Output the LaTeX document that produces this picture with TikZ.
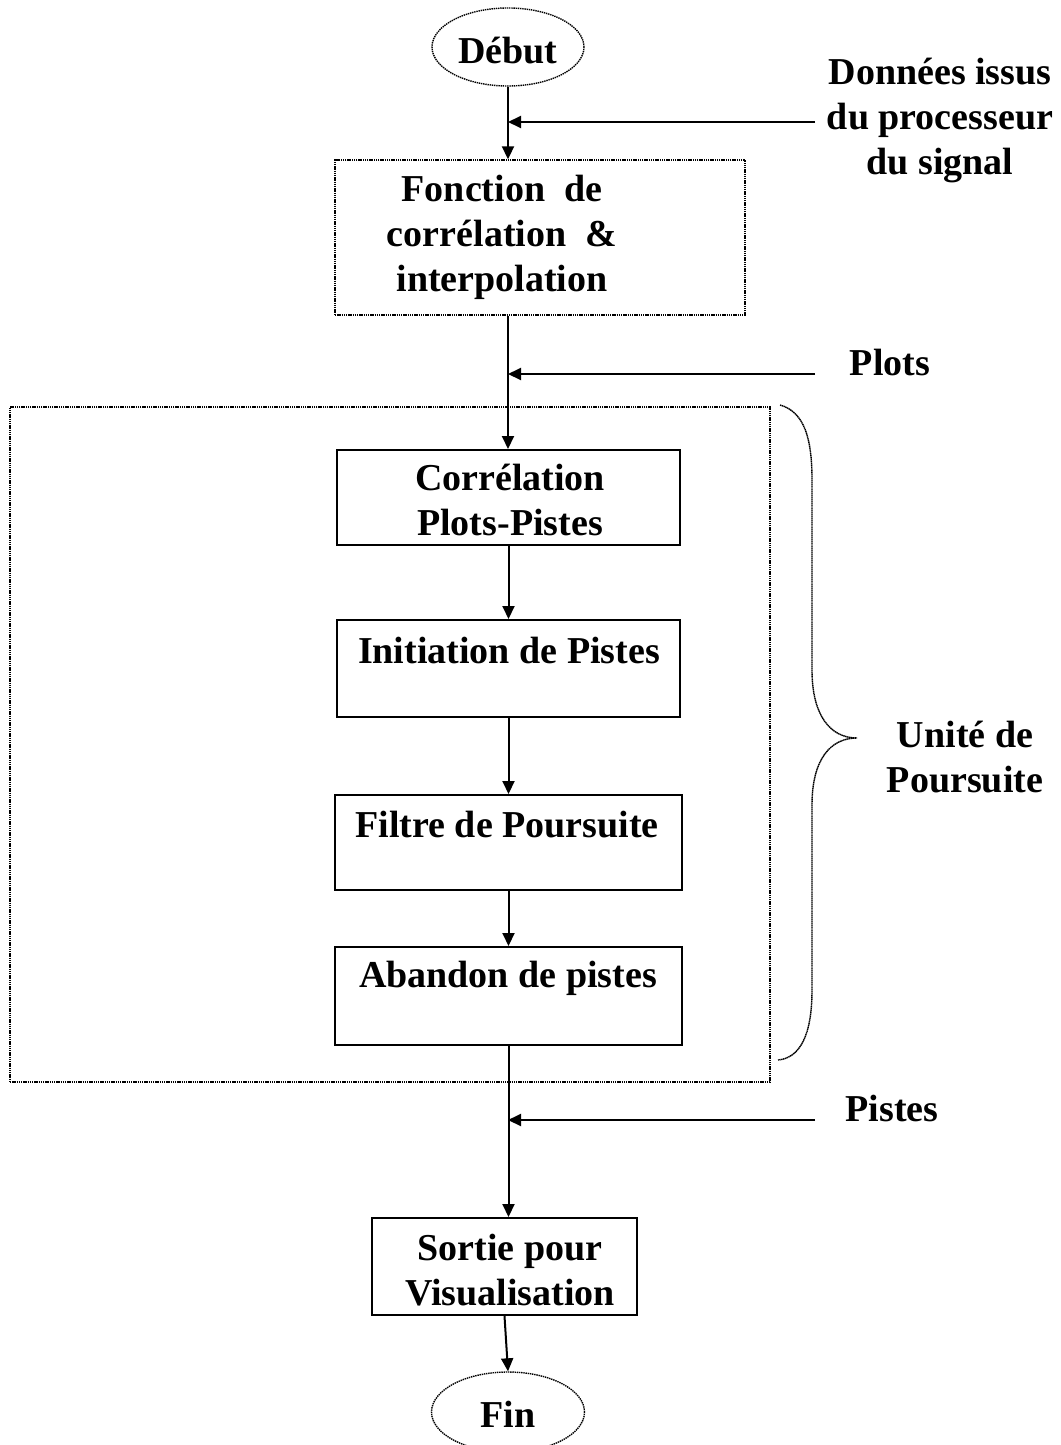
\documentclass[tikz,border=0pt]{standalone}
\usepackage{fontspec}
\setmainfont{Liberation Serif}
\usetikzlibrary{arrows.meta,shapes.geometric}
\begin{document}
\begin{tikzpicture}[x=1pt,y=-1pt,
  lbl/.style={font=\fontsize{38}{45}\selectfont\bfseries, align=center, inner sep=0pt},
  box/.style={draw, line width=2pt, inner sep=0pt},
  dotbox/.style={draw, line width=1.4pt, dash pattern=on 1.4pt off 0.8pt, inner sep=0pt},
  term/.style={ellipse, draw, line width=1.4pt, dash pattern=on 1.4pt off 0.8pt, inner sep=0pt},
  arr/.style={line width=2pt, -{Triangle[length=13pt,width=12pt]}}]
\useasboundingbox (0,0) rectangle (1060,1445);
\clip (0,0) rectangle (1060,1445);

% terminals
\node[term, minimum width=152, minimum height=78] (debut) at (508,47) {};
\node[lbl] (debutT) at (508,51) {Début};
\node[term, minimum width=153, minimum height=80] (fin) at (508,1412) {};
\node[lbl] (finT) at (508,1414) {Fin};

% processing boxes
\node[dotbox, minimum width=410, minimum height=155] (fonc) at (540,237.5) {};
\node[lbl] (foncT) at (502,237) {Fonction\ \ de\\corrélation\ \ \&\\interpolation};

\node[dotbox, minimum width=760, minimum height=675] (unit) at (390,744.5) {};

\node[box, minimum width=343, minimum height=95] (corr) at (508.5,497.5) {};
\node[lbl] (corrT) at (510,500) {Corrélation\\Plots-Pistes};

\node[box, minimum width=343, minimum height=97] (init) at (508.5,668.5) {};
\node[lbl] (initT) at (509,650) {Initiation de Pistes};

\node[box, minimum width=347, minimum height=95] (filt) at (508.5,842.5) {};
\node[lbl] (filtT) at (507,825) {Filtre de Poursuite};

\node[box, minimum width=347, minimum height=98] (aban) at (508.5,996) {};
\node[lbl] (abanT) at (508,978) {Abandon de pistes};

\node[box, minimum width=265, minimum height=97] (sort) at (504.5,1266.5) {};
\node[lbl] (sortT) at (510,1270) {Sortie pour\\Visualisation};

% main flow
\draw[arr] (debut.south) -- (debut.south |- fonc.north);
\draw[arr] (debut.south |- fonc.south) -- (debut.south |- corr.north);
\draw[arr] (corr.south) -- (init.north);
\draw[arr] (init.south) -- (filt.north);
\draw[arr] (filt.south) -- (aban.north);
\draw[arr] (aban.south) -- (aban.south |- sort.north);
\draw[arr] (sort.south) -- (fin.north);

% incoming data
\coordinate (inD) at (815,122);
\coordinate (inP) at (815,374);
\coordinate (inS) at (815,1120);
\draw[arr] (inD) -- (inD -| debut.south);
\draw[arr] (inP) -- (inP -| debut.south);
\draw[arr] (inS) -- (inS -| debut.south);
\node[lbl] (donT) at (940,120) {Données issus\\du processeur\\du signal};
\node[lbl] (plotsT) at (890,362) {Plots};
\node[lbl] (pistesT) at (892,1108) {Pistes};

% brace around the tracking unit
\coordinate (brTop) at (780,405);
\coordinate (brTip) at (857,738);
\coordinate (brBot) at (778,1060);
\draw[line width=1.4pt, dash pattern=on 1.4pt off 0.5pt]
  (brTop) .. controls (805,412) and (812,440) .. (812,480)
  -- (812,670) .. controls (812,715) and (830,738) .. (brTip)
  .. controls (830,738) and (812,760) .. (812,805)
  -- (812,990) .. controls (812,1035) and (800,1058) .. (brBot);
\node[lbl] (unitT) at (965,757) {Unité de\\Poursuite};
\end{tikzpicture}
\end{document}
